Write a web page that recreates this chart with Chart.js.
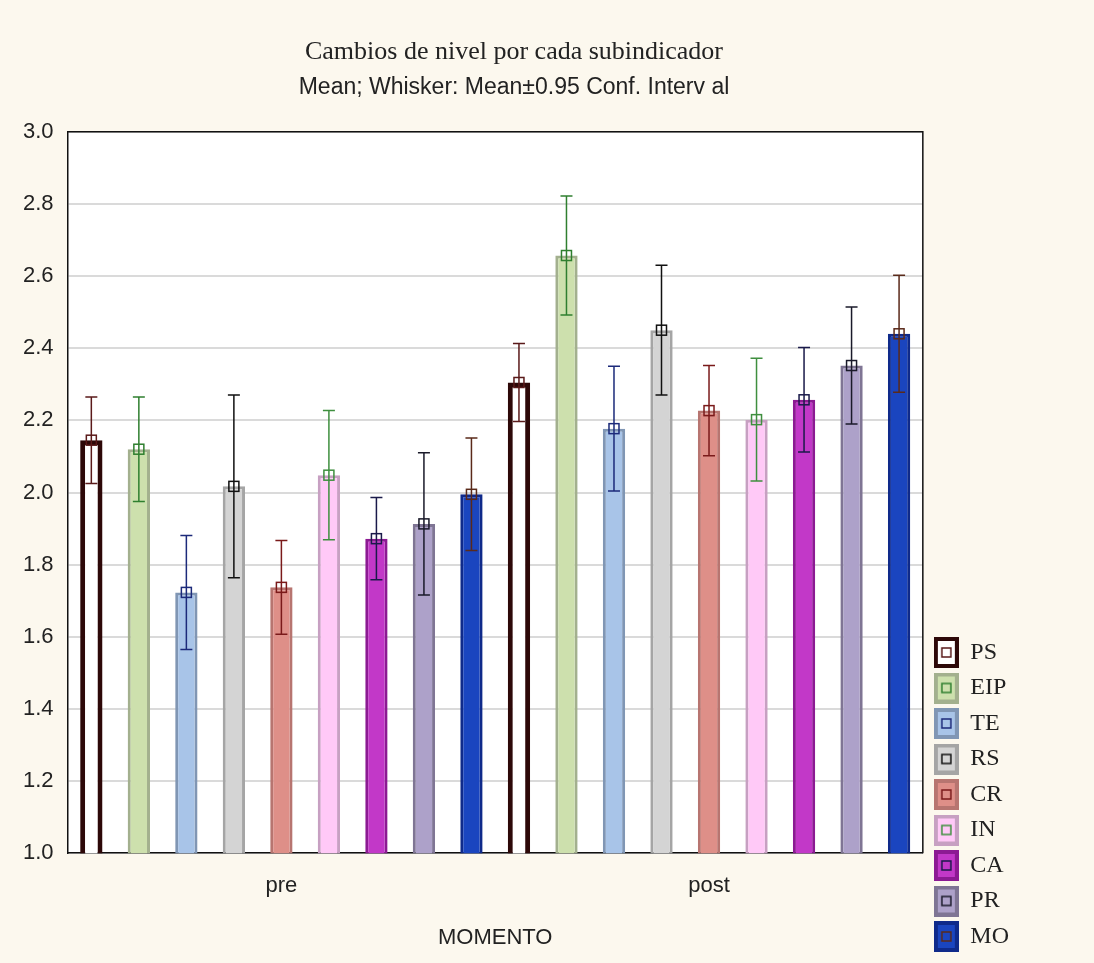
<!DOCTYPE html>
<html>
<head>
<meta charset="utf-8">
<script src="https://cdn.jsdelivr.net/npm/chart.js@4.4.1/dist/chart.umd.min.js"></script>
<style>
  body { margin: 0; background: #fcf8ee; }
  #wrap { width: 1094px; height: 963px; }
</style>
</head>
<body>
<div id="wrap"><canvas id="nivelesChart" width="1094" height="963"></canvas></div>
<script>
// datos
const momentos = ['pre', 'post'];
const subindicadores = ['PS', 'EIP', 'TE', 'RS', 'CR', 'IN', 'CA', 'PR', 'MO'];
const mediaPre  = [2.145, 2.12, 1.723, 2.017, 1.737, 2.048, 1.872, 1.913, 1.995];
const mediaPost = [2.305, 2.657, 2.177, 2.45, 2.227, 2.202, 2.257, 2.352, 2.44];
// semiamplitud del intervalo de confianza 0.95
const icPre  = [0.12, 0.145, 0.158, 0.253, 0.13, 0.179, 0.114, 0.197, 0.156];
const icPost = [0.108, 0.165, 0.173, 0.18, 0.125, 0.17, 0.145, 0.162, 0.162];
const yTicks = [1.0, 1.2, 1.4, 1.6, 1.8, 2.0, 2.2, 2.4, 2.6, 2.8, 3.0];

// estilos por subindicador
const relleno  = ['#ffffff', '#cde0ad', '#a8c4e8', '#d4d4d4', '#de8f88', '#ffc9f7', '#c238c8', '#ada1c9', '#1a45bf'];
const borde    = ['#2d0808', '#a3b08e', '#8096b4', '#a5a5a5', '#b77570', '#c7a0c2', '#8c1a93', '#7f7594', '#0f2a8a'];
const bigote   = ['#5a1a1a', '#2f7f2f', '#1c2a7a', '#111111', '#7a1a1a', '#3f8f3f', '#1a1a4a', '#1a1a2a', '#5a2a1a'];

const sans = '"Liberation Sans", Arial, sans-serif';

// icono de leyenda: cuadro de color con marcador hueco
function iconoLeyenda(i) {
    const c = document.createElement('canvas');
    c.width = 25; c.height = 31;
    const g = c.getContext('2d');
    g.fillStyle = borde[i];
    g.fillRect(0, 0, 25, 31);
    g.fillStyle = relleno[i];
    g.fillRect(4, 4, 17, 23);
    g.strokeStyle = bigote[i];
    g.lineWidth = 1.5;
    g.strokeRect(8, 11, 9, 9);
    return c;
}

const datasets = subindicadores.map((nombre, i) => ({
    label: nombre,
    data: [mediaPre[i], mediaPost[i]],
    ic: [icPre[i], icPost[i]],
    backgroundColor: relleno[i],
    borderColor: borde[i],
    borderWidth: i === 0 ? 5 : 3,
    borderSkipped: false,
    barPercentage: 0.47,
    categoryPercentage: 1.0,
    pointStyle: iconoLeyenda(i),
}));

// fondo crema, area blanca y marco negro
const fondo = {
    id: 'fondo',
    beforeDraw(chart) {
        const { ctx, chartArea: a } = chart;
        ctx.save();
        ctx.fillStyle = '#fcf8ee';
        ctx.fillRect(0, 0, chart.width, chart.height);
        ctx.fillStyle = '#ffffff';
        ctx.fillRect(a.left, a.top, a.right - a.left, a.bottom - a.top);
        ctx.restore();
    },
    afterDraw(chart) {
        const { ctx, chartArea: a } = chart;
        ctx.save();
        ctx.strokeStyle = '#111';
        ctx.lineWidth = 1.5;
        ctx.beginPath();
        ctx.moveTo(a.left, a.top);
        ctx.lineTo(a.right, a.top);
        ctx.lineTo(a.right, a.bottom);
        ctx.stroke();
        ctx.restore();
    }
};

// bigotes: media +/- intervalo de confianza
const bigotes = {
    id: 'bigotes',
    afterDatasetsDraw(chart) {
        const ctx = chart.ctx;
        const y = chart.scales.y;
        chart.data.datasets.forEach((ds, i) => {
            chart.getDatasetMeta(i).data.forEach((bar, j) => {
                const m = ds.data[j], e = ds.ic[j];
                const yTop = y.getPixelForValue(m + e);
                const yBot = y.getPixelForValue(m - e);
                const yMid = y.getPixelForValue(m);
                ctx.save();
                ctx.strokeStyle = bigote[i];
                ctx.lineWidth = 1.5;
                ctx.beginPath();
                ctx.moveTo(bar.x, yTop); ctx.lineTo(bar.x, yBot);
                ctx.moveTo(bar.x - 6, yTop); ctx.lineTo(bar.x + 6, yTop);
                ctx.moveTo(bar.x - 6, yBot); ctx.lineTo(bar.x + 6, yBot);
                ctx.stroke();
                ctx.strokeRect(bar.x - 5, yMid - 5, 10, 10);
                ctx.restore();
            });
        });
    }
};

Chart.defaults.color = '#222';

new Chart(document.getElementById('nivelesChart'), {
    type: 'bar',
    data: { labels: momentos, datasets: datasets },
    plugins: [fondo, bigotes],
    options: {
        responsive: false,
        animation: false,
        layout: { padding: { left: 9, bottom: 3, top: 0, right: 75 } },
        scales: {
            x: {
                grid: { display: false, drawTicks: false },
                border: { color: '#111', width: 1.5 },
                ticks: { font: { family: sans, size: 22 }, padding: 20 },
                title: {
                    display: true, text: 'MOMENTO',
                    font: { family: sans, size: 22 },
                    padding: { top: 5, bottom: 9 }
                }
            },
            y: {
                min: 1, max: 3,
                afterBuildTicks(axis) { axis.ticks = yTicks.map(v => ({ value: v })); },
                grid: { color: '#dadada', lineWidth: 2, drawTicks: false },
                border: { color: '#111', width: 1.5 },
                ticks: {
                    font: { family: sans, size: 22 },
                    padding: 14,
                    callback: v => v.toFixed(1)
                }
            }
        },
        plugins: {
            title: {
                display: true,
                text: 'Cambios de nivel por cada subindicador',
                font: { family: 'Liberation Serif', size: 26, weight: 'normal' },
                padding: { top: 37, bottom: 6 }
            },
            subtitle: {
                display: true,
                text: 'Mean; Whisker: Mean\u00b10.95 Conf. Interv al',
                font: { family: sans, size: 23 },
                padding: { bottom: 30 }
            },
            legend: {
                display: true,
                position: 'right',
                align: 'end',
                labels: {
                    usePointStyle: true,
                    padding: 11.5,
                    font: { family: 'Liberation Serif', size: 24 },
                    color: '#222'
                }
            },
            tooltip: { enabled: false }
        }
    }
});
</script>
</body>
</html>
